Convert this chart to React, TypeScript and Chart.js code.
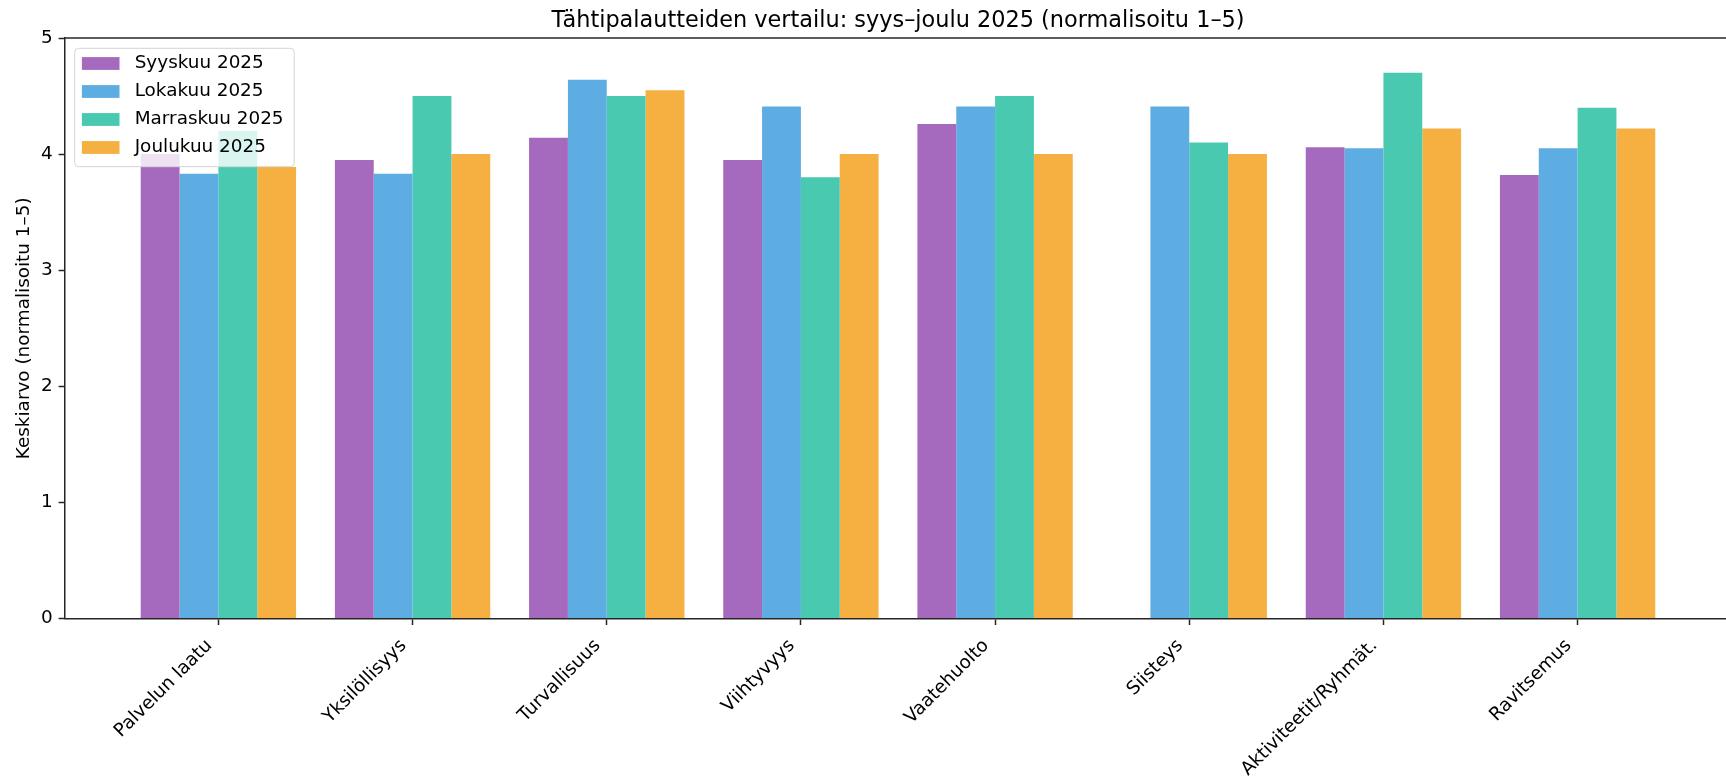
import React, { useEffect, useRef } from "react";
import { Chart, registerables } from "chart.js";

Chart.register(...registerables);

const categories = [
  "Palvelun laatu",
  "Yksilöllisyys",
  "Turvallisuus",
  "Viihtyvyys",
  "Vaatehuolto",
  "Siisteys",
  "Aktiviteetit/Ryhmät.",
  "Ravitsemus",
];
const seriesLabels = ["Syyskuu 2025", "Lokakuu 2025", "Marraskuu 2025", "Joulukuu 2025"];
const syyskuu: (number | null)[] = [4.0, 3.95, 4.14, 3.95, 4.26, null, 4.06, 3.82];
const lokakuu: (number | null)[] = [3.83, 3.83, 4.64, 4.41, 4.41, 4.41, 4.05, 4.05];
const marraskuu: (number | null)[] = [4.2, 4.5, 4.5, 3.8, 4.5, 4.1, 4.7, 4.4];
const joulukuu: (number | null)[] = [3.89, 4.0, 4.55, 4.0, 4.0, 4.0, 4.22, 4.22];
const seriesColors = ["#A569BD", "#5DADE2", "#48C9B0", "#F5B041"];
const yTicks = [0, 1, 2, 3, 4, 5];
const titleText = "Tähtipalautteiden vertailu: syys–joulu 2025 (normalisoitu 1–5)";
const yAxisTitle = "Keskiarvo (normalisoitu 1–5)";

const FONT = "'DejaVu Sans', sans-serif";
const AXIS = "#262626";
const CW = 1732;
const CH = 778;

const overlayPlugin = {
  id: "overlay",
  afterDatasetsDraw(chart: any) {
    const { ctx, chartArea } = chart;
    ctx.save();
    // top spine
    ctx.strokeStyle = AXIS;
    ctx.lineWidth = 1.5;
    ctx.beginPath();
    ctx.moveTo(chartArea.left - 0.75, chartArea.top);
    ctx.lineTo(chartArea.right, chartArea.top);
    ctx.stroke();
    // title
    ctx.fillStyle = "#000";
    ctx.font = `22.4px ${FONT}`;
    ctx.textAlign = "center";
    ctx.textBaseline = "alphabetic";
    ctx.fillText(titleText, (chartArea.left + chartArea.right) / 2, chartArea.top - 10.7);
    // legend
    const x0 = chartArea.left + 9.7;
    const y0 = chartArea.top + 10.3;
    const w = 219.5;
    const h = 118.4;
    const r = 4;
    ctx.beginPath();
    ctx.moveTo(x0 + r, y0);
    ctx.lineTo(x0 + w - r, y0);
    ctx.quadraticCurveTo(x0 + w, y0, x0 + w, y0 + r);
    ctx.lineTo(x0 + w, y0 + h - r);
    ctx.quadraticCurveTo(x0 + w, y0 + h, x0 + w - r, y0 + h);
    ctx.lineTo(x0 + r, y0 + h);
    ctx.quadraticCurveTo(x0, y0 + h, x0, y0 + h - r);
    ctx.lineTo(x0, y0 + r);
    ctx.quadraticCurveTo(x0, y0, x0 + r, y0);
    ctx.closePath();
    ctx.fillStyle = "rgba(255,255,255,0.8)";
    ctx.fill();
    ctx.strokeStyle = "#d4d4d4";
    ctx.lineWidth = 1;
    ctx.stroke();
    chart.data.datasets.forEach((ds: any, i: number) => {
      const cy = y0 + 15.2 + i * 28;
      ctx.fillStyle = ds.backgroundColor;
      ctx.fillRect(x0 + 7.2, cy - 6.4, 37.6, 12.8);
      ctx.fillStyle = "#000";
      ctx.font = `18.4px ${FONT}`;
      ctx.textAlign = "left";
      ctx.textBaseline = "middle";
      ctx.fillText(ds.label, x0 + 60, cy);
    });
    ctx.restore();
  },
};

export default function App() {
  const ref = useRef<HTMLCanvasElement | null>(null);

  useEffect(() => {
    if (!ref.current) return;
    const all = [syyskuu, lokakuu, marraskuu, joulukuu];
    const datasets = all.map((vals, si) => ({
      label: seriesLabels[si],
      backgroundColor: seriesColors[si],
      borderWidth: 0,
      data: vals
        .map((v, i) => ({ x: i, y: v }))
        .filter((p) => p.y !== null) as any,
    }));

    const chart = new Chart(ref.current, {
      type: "bar",
      data: { datasets },
      plugins: [overlayPlugin],
      options: {
        animation: false,
        responsive: false,
        devicePixelRatio: 1,
        layout: { padding: { top: 38, right: 1, left: 0, bottom: 0 } },
        plugins: {
          legend: { display: false },
          title: { display: false },
          tooltip: { enabled: false },
        },
        datasets: { bar: { barPercentage: 1, categoryPercentage: 0.8 } },
        scales: {
          x: {
            type: "linear",
            offset: false,
            min: -0.79,
            max: 7.79,
            afterBuildTicks: (s: any) => {
              s.ticks = categories.map((_, i) => ({ value: i }));
            },
            afterFit: (s: any) => {
              s.height = 159.4;
            },
            ticks: {
              autoSkip: false,
              minRotation: 45,
              maxRotation: 45,
              labelOffset: -9,
              padding: 10,
              color: "#000",
              font: { size: 18.4, family: FONT },
              callback: (v: any) => categories[v as number] ?? "",
            },
            grid: {
              offset: false,
              drawOnChartArea: false,
              drawTicks: true,
              tickLength: 6.4,
              tickColor: AXIS,
              tickWidth: 1.5,
            },
            border: { display: true, color: AXIS, width: 1.5 },
          },
          y: {
            type: "linear",
            min: 0,
            max: 5,
            afterBuildTicks: (s: any) => {
              s.ticks = yTicks.map((v) => ({ value: v }));
            },
            afterFit: (s: any) => {
              s.width = 65;
            },
            ticks: {
              padding: 6,
              color: "#000",
              font: { size: 18.4, family: FONT },
              callback: (v: any) => String(v),
            },
            grid: {
              drawOnChartArea: false,
              drawTicks: true,
              tickLength: 6.4,
              tickColor: AXIS,
              tickWidth: 1.5,
            },
            border: { display: true, color: AXIS, width: 1.5 },
            title: {
              display: true,
              text: yAxisTitle,
              color: "#000",
              font: { size: 18.4, family: FONT },
              padding: { top: 13, bottom: 0 },
            },
          },
        },
      } as any,
    });
    return () => chart.destroy();
  }, []);

  return (
    <div
      style={{
        position: "fixed",
        left: 0,
        top: 0,
        width: 1726,
        height: 778,
        overflow: "hidden",
        background: "#fff",
      }}
    >
      <canvas ref={ref} width={CW} height={CH} style={{ display: "block", width: CW, height: CH }} />
    </div>
  );
}
